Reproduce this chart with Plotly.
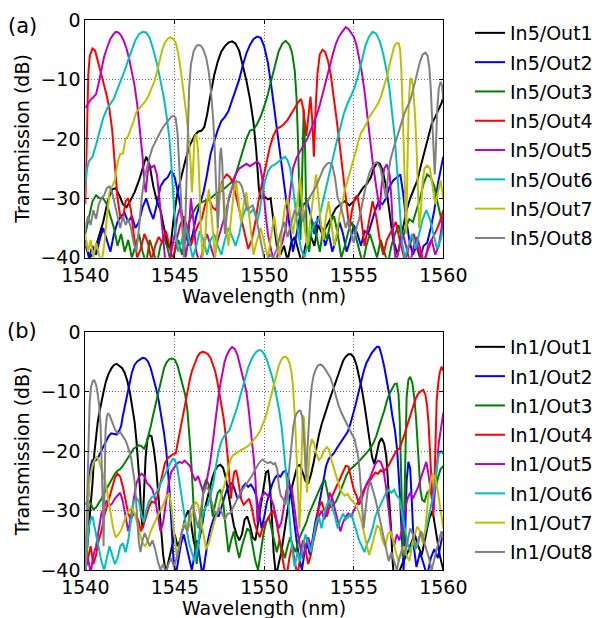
import plotly.graph_objects as go

# ---------------- data ----------------
X_TICKS = [1540, 1545, 1550, 1555, 1560]
Y_TICKS = [0, -10, -20, -30, -40]
LABELS_A = ["In5/Out1", "In5/Out2", "In5/Out3", "In5/Out4", "In5/Out5", "In5/Out6", "In5/Out7", "In5/Out8"]
LABELS_B = ["In1/Out1", "In1/Out2", "In1/Out3", "In1/Out4", "In1/Out5", "In1/Out6", "In1/Out7", "In1/Out8"]
COLORS = ["#000000", "#0000ff", "#008000", "#ff0000", "#bf00bf", "#00bfbf", "#bfbf00", "#808080"]

# (wavelength nm, transmission dB) — panel (a), input 5
A_OUT1 = [(1540.0,-38),(1540.25,-40),(1540.5,-39),(1540.75,-36.5),(1541.0,-34),(1541.25,-30.5),(1541.5,-28.5),(1541.7,-28.3),(1541.9,-29.5),(1542.1,-31),(1542.3,-31.5),(1542.5,-30.5),(1542.75,-29),(1543.0,-27),(1543.2,-25),(1543.4,-23),(1543.6,-24.5),(1543.8,-28),(1544.0,-30.5),(1544.2,-32),(1544.4,-35),(1544.6,-37.8),(1544.75,-38.5),(1544.95,-33),(1545.15,-29),(1545.35,-26.5),(1545.6,-23.5),(1545.85,-21),(1546.1,-19.5),(1546.3,-18.8),(1546.5,-18.6),(1546.65,-18),(1546.8,-16),(1547.0,-12.5),(1547.2,-9.3),(1547.4,-7),(1547.6,-5.3),(1547.8,-4.4),(1548.0,-3.8),(1548.2,-3.6),(1548.4,-4),(1548.6,-5.2),(1548.8,-7.5),(1549.0,-10.2),(1549.2,-13.3),(1549.4,-17.3),(1549.55,-22),(1549.7,-28.5),(1549.8,-30),(1550.0,-29.7),(1550.2,-30.2),(1550.35,-30),(1550.5,-33.5),(1550.7,-38),(1550.9,-39.5),(1551.1,-38),(1551.3,-40.5),(1551.5,-37.5),(1551.7,-36.5),(1551.9,-38.5),(1552.1,-41),(1552.3,-38),(1552.55,-36),(1552.8,-38),(1553.0,-34.5),(1553.25,-36),(1553.5,-34.5),(1553.75,-33),(1554.0,-31.7),(1554.25,-31),(1554.5,-30.5),(1554.75,-31.2),(1555.0,-30.5),(1555.25,-29.5),(1555.5,-28.3),(1555.75,-27.5),(1555.95,-26.5),(1556.1,-25),(1556.3,-24),(1556.45,-24.2),(1556.6,-25.2),(1556.8,-28),(1557.0,-32.5),(1557.2,-37),(1557.45,-39.5),(1557.7,-36),(1557.95,-32),(1558.15,-30),(1558.35,-28.5),(1558.55,-27),(1558.75,-24.5),(1558.95,-22),(1559.15,-19.5),(1559.35,-17.5),(1559.55,-16.3),(1559.75,-15),(1559.9,-14),(1560.0,-13)]
A_OUT2 = [(1540.0,-37),(1540.2,-40),(1540.4,-38),(1540.6,-39.5),(1540.8,-37),(1541.0,-35),(1541.2,-37),(1541.4,-39),(1541.6,-36),(1541.8,-34),(1542.0,-33),(1542.2,-32.5),(1542.4,-34),(1542.6,-33),(1542.8,-35),(1543.0,-34),(1543.2,-31.5),(1543.4,-30),(1543.6,-32),(1543.8,-33.5),(1544.0,-31),(1544.2,-28),(1544.4,-27),(1544.6,-26.5),(1544.8,-25.3),(1545.0,-26.5),(1545.2,-29.5),(1545.4,-33),(1545.6,-36),(1545.8,-38),(1546.0,-36),(1546.2,-33),(1546.4,-31),(1546.6,-29),(1546.8,-26),(1547.0,-22.5),(1547.2,-20.5),(1547.4,-18.5),(1547.6,-17),(1547.8,-16.3),(1548.0,-15.3),(1548.2,-13.6),(1548.4,-12),(1548.6,-10),(1548.8,-7.6),(1549.0,-5.6),(1549.2,-4.2),(1549.4,-3.2),(1549.6,-2.8),(1549.8,-3),(1550.0,-4.5),(1550.2,-7.2),(1550.4,-11.3),(1550.6,-16),(1550.8,-20.7),(1551.0,-25.5),(1551.2,-30),(1551.4,-35),(1551.6,-39),(1551.8,-36),(1552.0,-33),(1552.2,-31),(1552.4,-30.5),(1552.6,-33),(1552.8,-36),(1553.0,-33),(1553.2,-35),(1553.4,-38),(1553.6,-36),(1553.8,-39),(1554.0,-37),(1554.2,-34),(1554.4,-36),(1554.6,-39),(1554.8,-37),(1555.0,-34.5),(1555.2,-36),(1555.4,-38),(1555.6,-35.5),(1555.8,-36),(1556.0,-34),(1556.2,-32),(1556.4,-30.5),(1556.6,-31),(1556.8,-30),(1557.0,-28),(1557.2,-27),(1557.4,-26.5),(1557.6,-26),(1557.75,-29),(1557.9,-33),(1558.1,-37),(1558.3,-39.5),(1558.5,-38),(1558.7,-40),(1558.9,-38),(1559.1,-37.5),(1559.3,-35),(1559.5,-32),(1559.7,-27.5),(1559.85,-25),(1560.0,-23)]
A_OUT3 = [(1540.0,-36),(1540.2,-33),(1540.4,-30.5),(1540.6,-29.5),(1540.8,-30),(1541.0,-30),(1541.2,-31),(1541.4,-33),(1541.6,-35),(1541.8,-38),(1542.0,-36),(1542.2,-39),(1542.4,-37),(1542.6,-40),(1542.8,-38),(1543.0,-36),(1543.2,-39),(1543.4,-41),(1543.6,-37),(1543.8,-39),(1544.0,-41),(1544.2,-38),(1544.4,-36.5),(1544.6,-38.5),(1544.8,-41),(1545.0,-39),(1545.2,-37),(1545.4,-39.5),(1545.6,-37),(1545.8,-34),(1546.0,-32.5),(1546.2,-31.5),(1546.4,-30.8),(1546.6,-30.5),(1546.8,-30.2),(1547.0,-30),(1547.2,-29.5),(1547.4,-29),(1547.6,-28.8),(1547.8,-28.3),(1548.0,-27.8),(1548.2,-27.2),(1548.4,-26),(1548.6,-24),(1548.8,-22),(1549.0,-20),(1549.2,-18.6),(1549.4,-18.4),(1549.6,-17.5),(1549.8,-16.2),(1550.0,-14.5),(1550.2,-12.5),(1550.4,-10),(1550.6,-7.5),(1550.8,-5.3),(1551.0,-4),(1551.2,-3.5),(1551.4,-4.2),(1551.55,-5.5),(1551.7,-8.5),(1551.8,-13),(1551.88,-20),(1551.95,-30),(1552.02,-37),(1552.1,-28),(1552.2,-15),(1552.28,-22),(1552.37,-37),(1552.5,-39),(1552.7,-34),(1552.9,-36),(1553.1,-39),(1553.3,-35),(1553.5,-37),(1553.7,-34),(1553.9,-33),(1554.1,-36),(1554.3,-40),(1554.5,-38),(1554.7,-35.5),(1554.9,-34),(1555.1,-36.5),(1555.3,-39),(1555.5,-41),(1555.7,-38),(1555.9,-36),(1556.1,-38),(1556.3,-40),(1556.5,-37),(1556.7,-39),(1556.9,-41),(1557.1,-38),(1557.3,-36),(1557.5,-34.5),(1557.7,-37),(1557.9,-35),(1558.1,-33.5),(1558.3,-34),(1558.5,-32),(1558.7,-30),(1558.9,-27.5),(1559.1,-26),(1559.3,-26.5),(1559.5,-28),(1559.7,-31),(1559.85,-33),(1560.0,-36)]
A_OUT4 = [(1540.0,-31),(1540.08,-20),(1540.17,-9),(1540.25,-6),(1540.4,-4.8),(1540.55,-5.2),(1540.7,-6.8),(1540.85,-8.6),(1541.0,-10.4),(1541.2,-12.8),(1541.35,-15),(1541.5,-18.5),(1541.6,-22),(1541.7,-26),(1541.8,-30),(1541.95,-33),(1542.1,-33.5),(1542.25,-30.5),(1542.4,-30),(1542.55,-32),(1542.7,-36),(1542.9,-40),(1543.1,-38.5),(1543.3,-36),(1543.5,-37.5),(1543.7,-40.5),(1543.9,-38),(1544.1,-36.5),(1544.3,-37.5),(1544.5,-35.5),(1544.7,-38),(1544.9,-40.5),(1545.1,-37),(1545.3,-34.5),(1545.5,-33),(1545.7,-35),(1545.9,-38),(1546.1,-36),(1546.3,-34.5),(1546.5,-33.5),(1546.7,-31),(1546.9,-30),(1547.1,-31.5),(1547.3,-32),(1547.5,-28.5),(1547.7,-26.8),(1547.9,-26),(1548.1,-26.5),(1548.3,-28),(1548.5,-30.5),(1548.7,-33),(1548.9,-36),(1549.1,-38.5),(1549.3,-37),(1549.5,-34),(1549.7,-30),(1549.9,-27),(1550.1,-24),(1550.3,-21.5),(1550.5,-19.5),(1550.7,-18.3),(1550.9,-18),(1551.1,-17.5),(1551.3,-16.8),(1551.5,-15.8),(1551.7,-14.8),(1551.9,-13.8),(1552.05,-13.3),(1552.18,-15),(1552.35,-19.5),(1552.47,-16),(1552.58,-12.9),(1552.68,-17),(1552.77,-23),(1552.88,-14),(1552.97,-9),(1553.1,-5.8),(1553.25,-5),(1553.4,-5.4),(1553.55,-6.8),(1553.7,-9),(1553.85,-12),(1554.0,-15.8),(1554.15,-19.5),(1554.3,-23.5),(1554.45,-27.5),(1554.6,-32),(1554.75,-35),(1554.9,-32),(1555.05,-30),(1555.2,-29.5),(1555.4,-33),(1555.6,-38),(1555.85,-34),(1556.05,-30.5),(1556.25,-33),(1556.45,-37),(1556.65,-39.5),(1556.85,-37),(1557.1,-35.5),(1557.35,-34),(1557.6,-37.5),(1557.85,-40.5),(1558.1,-38),(1558.35,-36),(1558.6,-38.5),(1558.85,-41),(1559.1,-39),(1559.35,-37),(1559.6,-35.5),(1559.8,-34),(1560.0,-32)]
A_OUT5 = [(1540.0,-14.8),(1540.15,-14),(1540.3,-13.4),(1540.45,-13),(1540.6,-12.5),(1540.75,-10.6),(1540.9,-8.3),(1541.05,-6.2),(1541.2,-4.8),(1541.4,-3.2),(1541.55,-2.5),(1541.7,-2.0),(1541.85,-2.1),(1542.0,-2.6),(1542.15,-3.5),(1542.3,-4.8),(1542.45,-6.5),(1542.6,-8.7),(1542.75,-11),(1542.9,-14.2),(1543.0,-16.8),(1543.1,-19.8),(1543.2,-23),(1543.3,-27.5),(1543.38,-29),(1543.47,-26),(1543.57,-24.3),(1543.7,-24.8),(1543.85,-24.5),(1544.0,-26),(1544.15,-30),(1544.3,-35),(1544.45,-40),(1544.6,-42),(1544.8,-39),(1545.0,-36),(1545.15,-33),(1545.3,-31.5),(1545.45,-35),(1545.6,-40),(1545.75,-37),(1545.9,-30),(1546.05,-34),(1546.2,-39),(1546.4,-41),(1546.6,-38),(1546.8,-36),(1547.0,-38),(1547.2,-40),(1547.4,-37),(1547.6,-35),(1547.8,-33),(1548.0,-30.5),(1548.2,-28),(1548.4,-26),(1548.6,-25),(1548.8,-24.6),(1549.0,-24.2),(1549.2,-24.6),(1549.4,-24.2),(1549.6,-23.8),(1549.75,-24.3),(1549.9,-27),(1550.05,-32),(1550.2,-36),(1550.4,-39),(1550.6,-41),(1550.8,-39),(1551.0,-37.5),(1551.2,-35),(1551.4,-30),(1551.6,-25),(1551.8,-23.2),(1552.0,-22),(1552.2,-21),(1552.4,-20),(1552.6,-18.5),(1552.8,-17),(1552.95,-15.8),(1553.1,-14.3),(1553.25,-12.5),(1553.4,-10.6),(1553.55,-8.8),(1553.7,-7),(1553.85,-5.5),(1554.0,-4),(1554.15,-2.9),(1554.3,-2.2),(1554.45,-1.6),(1554.55,-1.2),(1554.7,-1.5),(1554.85,-2.1),(1555.0,-2.8),(1555.15,-4.2),(1555.3,-6.4),(1555.45,-8.8),(1555.6,-12),(1555.75,-16),(1555.9,-20.3),(1556.05,-23.8),(1556.2,-27),(1556.35,-30),(1556.45,-32),(1556.55,-28),(1556.7,-25),(1556.85,-24.3),(1557.0,-26),(1557.1,-30),(1557.2,-36),(1557.35,-41),(1557.55,-38),(1557.75,-36),(1557.95,-38.5),(1558.15,-41),(1558.35,-38),(1558.55,-36.5),(1558.75,-39),(1558.95,-41),(1559.15,-38),(1559.35,-37),(1559.55,-39.5),(1559.75,-38),(1559.9,-35),(1560.0,-33)]
A_OUT6 = [(1540.0,-28),(1540.1,-25),(1540.2,-23.8),(1540.4,-23),(1540.6,-21),(1540.8,-18.8),(1541.0,-16.5),(1541.2,-15),(1541.4,-14),(1541.6,-13.2),(1541.8,-11.6),(1542.0,-10.2),(1542.2,-8.5),(1542.4,-6.7),(1542.6,-5),(1542.8,-3.4),(1543.0,-2.4),(1543.2,-2.0),(1543.4,-2.1),(1543.6,-3),(1543.8,-5),(1544.0,-7.3),(1544.2,-10.2),(1544.4,-13.3),(1544.55,-16.3),(1544.7,-20),(1544.8,-24),(1544.88,-28),(1544.95,-32),(1545.05,-36),(1545.2,-39),(1545.4,-37),(1545.6,-34.5),(1545.8,-37),(1546.0,-40),(1546.2,-38),(1546.4,-35.5),(1546.6,-37),(1546.8,-39.5),(1547.0,-37),(1547.2,-36),(1547.4,-38),(1547.6,-39.5),(1547.8,-37),(1548.0,-35),(1548.2,-36.5),(1548.4,-38),(1548.6,-36),(1548.8,-33),(1549.0,-31.5),(1549.2,-32.5),(1549.4,-31.8),(1549.6,-34),(1549.75,-32),(1549.9,-29),(1550.05,-27),(1550.2,-25.5),(1550.4,-24.6),(1550.6,-24.3),(1550.8,-23.8),(1551.0,-23.3),(1551.15,-23),(1551.3,-23.6),(1551.45,-25),(1551.6,-28),(1551.75,-32),(1551.9,-36),(1552.05,-38.5),(1552.25,-40),(1552.45,-37),(1552.65,-35.5),(1552.85,-34),(1553.05,-33.5),(1553.25,-31),(1553.45,-28.5),(1553.65,-25.5),(1553.85,-23),(1554.05,-20.4),(1554.25,-18),(1554.45,-15.7),(1554.65,-14),(1554.85,-12.8),(1555.05,-11.3),(1555.25,-9.3),(1555.45,-6.8),(1555.65,-4.3),(1555.85,-2.8),(1556.05,-2.0),(1556.25,-2.3),(1556.45,-3.6),(1556.65,-5.8),(1556.85,-8.8),(1557.0,-11.8),(1557.15,-15.5),(1557.28,-19.5),(1557.4,-24.4),(1557.5,-28.5),(1557.6,-33),(1557.7,-37.5),(1557.85,-40),(1558.05,-38),(1558.25,-36),(1558.45,-38.5),(1558.65,-36),(1558.85,-33.5),(1559.05,-32),(1559.25,-33.5),(1559.45,-36),(1559.65,-38.5),(1559.85,-37),(1560.0,-35)]
A_OUT7 = [(1540.0,-36),(1540.15,-39),(1540.3,-37),(1540.45,-40),(1540.6,-37.5),(1540.75,-39),(1540.9,-41),(1541.05,-38),(1541.2,-34),(1541.35,-29),(1541.5,-28),(1541.65,-27),(1541.8,-24),(1541.95,-22.5),(1542.1,-22.5),(1542.25,-20),(1542.4,-19.5),(1542.55,-18.3),(1542.7,-17),(1542.85,-15.5),(1543.0,-15),(1543.2,-14.3),(1543.4,-13.5),(1543.55,-12.6),(1543.7,-11.6),(1543.85,-10.4),(1544.0,-8.8),(1544.15,-6.8),(1544.3,-5),(1544.45,-3.8),(1544.6,-3.2),(1544.75,-2.9),(1544.9,-3.1),(1545.05,-3.8),(1545.2,-5.8),(1545.35,-8.8),(1545.5,-12.3),(1545.65,-16),(1545.78,-19.9),(1545.88,-24),(1545.96,-29),(1546.02,-24),(1546.1,-19.8),(1546.2,-19.2),(1546.3,-22),(1546.38,-28),(1546.45,-35),(1546.55,-40),(1546.7,-37),(1546.8,-31),(1546.9,-28.5),(1547.0,-31),(1547.12,-36),(1547.25,-40),(1547.4,-35),(1547.5,-30),(1547.6,-27.5),(1547.72,-29),(1547.85,-34),(1548.0,-38),(1548.15,-33),(1548.3,-29),(1548.42,-27),(1548.55,-30),(1548.7,-34),(1548.85,-31),(1549.0,-29),(1549.12,-32),(1549.25,-36),(1549.4,-39.5),(1549.6,-37),(1549.8,-35),(1550.0,-37.5),(1550.2,-40),(1550.4,-36),(1550.55,-33),(1550.7,-36.5),(1550.85,-40),(1551.0,-35),(1551.15,-31.5),(1551.3,-30),(1551.45,-33),(1551.6,-36),(1551.75,-33),(1551.9,-29),(1552.0,-26.5),(1552.1,-30),(1552.25,-35),(1552.4,-38),(1552.55,-34),(1552.7,-31),(1552.8,-28),(1552.9,-26),(1553.0,-29),(1553.15,-34),(1553.3,-37),(1553.45,-33),(1553.6,-30.5),(1553.75,-34),(1553.9,-38),(1554.05,-36),(1554.2,-33),(1554.35,-31),(1554.5,-28.5),(1554.65,-27),(1554.8,-25.5),(1554.95,-24),(1555.1,-22.2),(1555.25,-20.5),(1555.4,-19),(1555.55,-18.3),(1555.7,-17.5),(1555.85,-16.4),(1556.0,-15.8),(1556.2,-14.8),(1556.4,-13.8),(1556.55,-12.6),(1556.7,-11),(1556.85,-9.6),(1557.0,-7.5),(1557.12,-5.9),(1557.25,-4.5),(1557.38,-3.9),(1557.5,-3.9),(1557.58,-4.8),(1557.65,-8),(1557.71,-13),(1557.77,-18.8),(1557.82,-25),(1557.87,-32),(1557.93,-36),(1558.0,-24),(1558.07,-14),(1558.15,-10),(1558.22,-9.8),(1558.3,-11),(1558.4,-15),(1558.5,-21),(1558.58,-28),(1558.65,-35),(1558.75,-32),(1558.85,-27),(1558.95,-25),(1559.1,-24.5),(1559.25,-25),(1559.4,-28),(1559.55,-31),(1559.7,-29),(1559.85,-27),(1560.0,-30)]
A_OUT8 = [(1540.0,-35),(1540.15,-33),(1540.3,-34.5),(1540.45,-32),(1540.6,-33.5),(1540.75,-31),(1540.9,-30),(1541.05,-29.5),(1541.2,-28.3),(1541.35,-28),(1541.5,-29),(1541.65,-31),(1541.8,-33),(1541.95,-35),(1542.1,-33),(1542.25,-34.5),(1542.4,-33.5),(1542.55,-35),(1542.7,-37.5),(1542.85,-39),(1543.0,-35),(1543.15,-30),(1543.3,-26.5),(1543.45,-24.5),(1543.6,-23),(1543.75,-21.5),(1543.9,-20.5),(1544.05,-19.8),(1544.2,-18.8),(1544.35,-18),(1544.5,-17.4),(1544.65,-16.8),(1544.8,-16.3),(1544.95,-16.1),(1545.05,-16.5),(1545.15,-19),(1545.25,-24),(1545.33,-29),(1545.42,-35),(1545.5,-40),(1545.58,-35),(1545.65,-27),(1545.72,-18),(1545.8,-11.5),(1545.9,-7.5),(1546.05,-5.3),(1546.2,-4.4),(1546.3,-4.2),(1546.45,-4.3),(1546.6,-5),(1546.75,-6.3),(1546.88,-8.4),(1547.0,-11.2),(1547.08,-14),(1547.15,-17),(1547.22,-21),(1547.28,-25),(1547.34,-30),(1547.4,-35),(1547.46,-30),(1547.52,-23),(1547.58,-21.5),(1547.65,-24),(1547.72,-30),(1547.8,-36),(1547.9,-33),(1548.0,-30),(1548.15,-28.5),(1548.3,-27.5),(1548.45,-27.2),(1548.6,-27.3),(1548.75,-28),(1548.9,-30),(1549.05,-32),(1549.2,-31.5),(1549.35,-31.2),(1549.5,-32.5),(1549.65,-35),(1549.8,-37),(1549.95,-39.5),(1550.1,-41),(1550.3,-39.5),(1550.5,-40),(1550.7,-38.5),(1550.9,-36),(1551.1,-34),(1551.3,-36.5),(1551.5,-34),(1551.7,-32),(1551.85,-33),(1552.0,-31.5),(1552.15,-34),(1552.3,-32),(1552.5,-30),(1552.7,-29),(1552.9,-28),(1553.1,-26.5),(1553.3,-25),(1553.5,-24.2),(1553.65,-24),(1553.8,-24.5),(1553.95,-26.5),(1554.1,-30),(1554.25,-31),(1554.4,-33),(1554.55,-35),(1554.7,-33.5),(1554.85,-36),(1555.0,-37.5),(1555.15,-35),(1555.3,-33.5),(1555.45,-31),(1555.6,-29),(1555.75,-27),(1555.9,-25.5),(1556.05,-24.6),(1556.2,-24),(1556.35,-24.2),(1556.5,-25),(1556.65,-27.5),(1556.8,-30),(1556.92,-26),(1557.05,-23.5),(1557.2,-21.8),(1557.35,-20.3),(1557.5,-18.8),(1557.65,-17.3),(1557.8,-16),(1557.95,-14.8),(1558.1,-14),(1558.25,-12.5),(1558.4,-10.6),(1558.55,-8.7),(1558.7,-7),(1558.85,-5.8),(1559.0,-5.5),(1559.12,-6),(1559.22,-8),(1559.3,-11.5),(1559.38,-16),(1559.45,-21),(1559.52,-26),(1559.58,-22),(1559.66,-15),(1559.75,-11.5),(1559.85,-10.4),(1559.93,-11),(1560.0,-13.5)]

# panel (b), input 1
B_OUT1 = [(1540.0,-40),(1540.1,-37),(1540.2,-33),(1540.3,-29),(1540.4,-25.5),(1540.5,-20.5),(1540.6,-17.2),(1540.7,-15),(1540.8,-13.3),(1540.9,-11.6),(1541.0,-10.3),(1541.15,-8.3),(1541.3,-7),(1541.45,-6.1),(1541.6,-5.5),(1541.75,-5.3),(1541.9,-5.6),(1542.05,-6),(1542.2,-6.8),(1542.35,-8.2),(1542.5,-10.3),(1542.62,-12.5),(1542.75,-15),(1542.85,-18),(1542.95,-21.5),(1543.05,-26),(1543.12,-30.5),(1543.2,-33),(1543.28,-27),(1543.37,-21),(1543.47,-18),(1543.57,-17.3),(1543.7,-17.5),(1543.82,-19.5),(1543.95,-22.5),(1544.05,-26),(1544.15,-30),(1544.25,-34),(1544.35,-37.5),(1544.5,-40.5),(1544.7,-38),(1544.85,-36),(1545.0,-34),(1545.15,-36),(1545.3,-35),(1545.45,-33),(1545.6,-31),(1545.75,-30),(1545.9,-32),(1546.05,-35),(1546.2,-37),(1546.35,-35),(1546.5,-33),(1546.65,-30),(1546.8,-28),(1546.95,-26),(1547.1,-24.5),(1547.25,-23.2),(1547.4,-22.5),(1547.55,-22.3),(1547.7,-22.8),(1547.85,-24.5),(1548.0,-27.5),(1548.15,-30),(1548.3,-32.5),(1548.45,-34),(1548.6,-35),(1548.75,-34),(1548.9,-31.5),(1549.05,-31),(1549.2,-32.5),(1549.35,-34.5),(1549.5,-35),(1549.65,-32),(1549.8,-29),(1549.95,-26),(1550.1,-23.5),(1550.22,-23.3),(1550.32,-26),(1550.42,-31),(1550.52,-37),(1550.65,-41),(1550.8,-39),(1550.95,-37),(1551.1,-34),(1551.25,-31),(1551.4,-28),(1551.55,-26),(1551.7,-24),(1551.85,-22.5),(1552.0,-22.3),(1552.15,-23.5),(1552.3,-25),(1552.45,-25.5),(1552.6,-24),(1552.75,-22),(1552.9,-19.5),(1553.05,-17.3),(1553.2,-15.5),(1553.35,-14),(1553.5,-12.8),(1553.65,-11.3),(1553.8,-10),(1553.95,-8.6),(1554.1,-7.2),(1554.25,-5.9),(1554.4,-4.8),(1554.55,-4.1),(1554.7,-3.7),(1554.85,-3.7),(1555.0,-4.2),(1555.15,-5.5),(1555.3,-7.3),(1555.45,-9.6),(1555.6,-12.3),(1555.75,-15.2),(1555.9,-18.5),(1556.02,-21),(1556.15,-22.2),(1556.28,-20.5),(1556.42,-18.5),(1556.56,-17.8),(1556.7,-18.8),(1556.82,-21),(1556.92,-25),(1557.0,-28.5),(1557.08,-33),(1557.16,-38),(1557.25,-42),(1557.45,-41),(1557.7,-39),(1557.95,-37.5),(1558.2,-35.5),(1558.4,-34),(1558.6,-36),(1558.8,-37.5),(1559.0,-34.5),(1559.2,-31.5),(1559.4,-30),(1559.6,-33.5),(1559.8,-37.5),(1560.0,-40)]
B_OUT2 = [(1540.0,-40),(1540.06,-35),(1540.12,-30.5),(1540.2,-25.5),(1540.3,-22.5),(1540.4,-21.5),(1540.55,-21.6),(1540.7,-21.2),(1540.85,-20.2),(1541.0,-19.3),(1541.15,-18.2),(1541.3,-17.5),(1541.45,-17),(1541.6,-17.1),(1541.75,-17.2),(1541.9,-16.5),(1542.0,-15.8),(1542.1,-14),(1542.2,-12.5),(1542.32,-10.5),(1542.45,-8.6),(1542.6,-6.8),(1542.75,-5.5),(1542.9,-4.9),(1543.05,-4.6),(1543.2,-4.3),(1543.35,-4.4),(1543.5,-4.9),(1543.65,-6),(1543.8,-7.6),(1543.95,-9.4),(1544.1,-11.5),(1544.25,-14),(1544.4,-17),(1544.52,-19.8),(1544.62,-23),(1544.7,-26.5),(1544.77,-30),(1544.84,-34),(1544.92,-38),(1545.05,-41),(1545.2,-38),(1545.35,-35.5),(1545.5,-34),(1545.65,-36),(1545.8,-38.5),(1545.95,-40),(1546.1,-37.5),(1546.25,-35),(1546.4,-38),(1546.55,-41),(1546.7,-38),(1546.85,-35),(1547.0,-33),(1547.15,-31.5),(1547.3,-30.5),(1547.45,-31),(1547.6,-29.5),(1547.75,-28),(1547.9,-26.5),(1548.05,-25.7),(1548.2,-25.3),(1548.35,-26.5),(1548.5,-28),(1548.65,-27.5),(1548.8,-26),(1548.95,-25.5),(1549.1,-26),(1549.25,-25.6),(1549.4,-26.3),(1549.55,-27.5),(1549.7,-30.5),(1549.85,-33),(1550.0,-31),(1550.15,-28.5),(1550.3,-27),(1550.45,-25.5),(1550.6,-24.5),(1550.75,-24),(1550.9,-24.3),(1551.05,-23.5),(1551.2,-23.3),(1551.35,-24.5),(1551.5,-27.5),(1551.65,-31.5),(1551.8,-35),(1551.95,-38),(1552.1,-40),(1552.25,-37),(1552.4,-35.5),(1552.55,-37.5),(1552.7,-34.5),(1552.85,-32),(1553.0,-30),(1553.15,-27.5),(1553.3,-25),(1553.45,-22.5),(1553.6,-21.3),(1553.75,-20.8),(1553.9,-20.3),(1554.05,-19.5),(1554.2,-18.8),(1554.35,-18.3),(1554.5,-17.5),(1554.65,-16.8),(1554.8,-15.5),(1554.95,-14),(1555.1,-12.2),(1555.25,-10.3),(1555.4,-8.4),(1555.55,-6.6),(1555.7,-5.2),(1555.85,-4.2),(1556.0,-3.5),(1556.15,-2.9),(1556.3,-2.4),(1556.42,-2.5),(1556.55,-3.8),(1556.7,-5.8),(1556.85,-8.2),(1557.0,-10.8),(1557.15,-14),(1557.3,-16.5),(1557.42,-19.8),(1557.5,-23),(1557.57,-27),(1557.63,-31),(1557.7,-36),(1557.78,-40),(1557.88,-33),(1557.95,-25),(1558.05,-21.8),(1558.15,-23),(1558.25,-29),(1558.35,-36),(1558.5,-39.5),(1558.7,-37),(1558.9,-39),(1559.1,-41),(1559.3,-38),(1559.5,-36.5),(1559.7,-38),(1559.85,-36),(1560.0,-33.5)]
B_OUT3 = [(1540.0,-29),(1540.15,-28.2),(1540.3,-28.8),(1540.45,-29.8),(1540.6,-29.5),(1540.75,-28.8),(1540.9,-28),(1541.05,-27.1),(1541.2,-26.3),(1541.35,-25.3),(1541.5,-24.5),(1541.65,-23.8),(1541.8,-23.3),(1541.95,-23),(1542.1,-22.5),(1542.25,-21.8),(1542.4,-21),(1542.55,-20.2),(1542.7,-19.6),(1542.85,-19.3),(1543.0,-19),(1543.15,-19.2),(1543.28,-19.6),(1543.4,-18.8),(1543.52,-17.5),(1543.65,-15.9),(1543.8,-13.8),(1543.95,-11.8),(1544.1,-9.6),(1544.25,-7.6),(1544.4,-6),(1544.55,-5),(1544.7,-4.5),(1544.85,-4.4),(1545.0,-4.6),(1545.15,-5.6),(1545.3,-7.2),(1545.45,-8.8),(1545.58,-10.5),(1545.7,-13),(1545.8,-16.5),(1545.88,-20),(1545.96,-24),(1546.04,-29),(1546.12,-34),(1546.22,-39),(1546.35,-35),(1546.5,-30),(1546.62,-26),(1546.75,-24.8),(1546.88,-25.5),(1547.0,-28),(1547.12,-31),(1547.25,-29),(1547.4,-27),(1547.55,-26.5),(1547.7,-28.5),(1547.85,-33),(1548.0,-37),(1548.15,-35),(1548.3,-33.5),(1548.45,-36),(1548.6,-38),(1548.75,-36),(1548.9,-34.5),(1549.05,-33),(1549.2,-33.5),(1549.35,-36),(1549.5,-38.5),(1549.65,-40),(1549.8,-37),(1549.95,-34),(1550.1,-32),(1550.25,-31),(1550.4,-33),(1550.55,-35),(1550.7,-37),(1550.85,-35),(1551.0,-36.5),(1551.15,-38),(1551.3,-36),(1551.45,-34.5),(1551.6,-36),(1551.75,-37),(1551.9,-35),(1552.05,-34),(1552.2,-33),(1552.35,-32),(1552.5,-30.5),(1552.65,-29.5),(1552.8,-28.2),(1552.95,-27.5),(1553.1,-26.5),(1553.25,-25.3),(1553.4,-25),(1553.55,-27),(1553.7,-29.5),(1553.85,-29),(1554.0,-28.5),(1554.15,-27.5),(1554.3,-26.3),(1554.45,-25.3),(1554.6,-24),(1554.75,-23.2),(1554.9,-22.8),(1555.05,-22.5),(1555.2,-22),(1555.35,-21.5),(1555.5,-21),(1555.65,-20.6),(1555.8,-20),(1555.95,-19.4),(1556.1,-18.6),(1556.25,-17.5),(1556.4,-16.2),(1556.55,-14.6),(1556.7,-13.2),(1556.85,-11.5),(1557.0,-10.3),(1557.15,-9.3),(1557.28,-8.7),(1557.4,-8.6),(1557.5,-10.5),(1557.57,-15),(1557.63,-22),(1557.7,-30),(1557.76,-38),(1557.82,-30),(1557.88,-18),(1557.95,-11),(1558.05,-8),(1558.15,-7.5),(1558.27,-8.5),(1558.38,-11),(1558.48,-14.5),(1558.56,-19),(1558.64,-23),(1558.72,-26.5),(1558.82,-28.2),(1558.95,-28.5),(1559.1,-27),(1559.25,-26.5),(1559.4,-27),(1559.55,-26.5),(1559.7,-24.5),(1559.85,-23),(1560.0,-22.5)]
B_OUT4 = [(1540.0,-40),(1540.15,-38),(1540.3,-36),(1540.45,-39),(1540.6,-37.5),(1540.75,-35),(1540.9,-33.5),(1541.05,-31),(1541.2,-29.4),(1541.35,-27.5),(1541.5,-26),(1541.65,-24.5),(1541.8,-23.8),(1541.95,-24.3),(1542.1,-26),(1542.25,-28.5),(1542.4,-30.5),(1542.55,-31.5),(1542.7,-30.5),(1542.85,-30.8),(1543.0,-32),(1543.1,-33.5),(1543.25,-32.5),(1543.4,-31),(1543.55,-29.5),(1543.7,-28.5),(1543.85,-28.7),(1544.0,-28),(1544.15,-26),(1544.3,-24),(1544.45,-22),(1544.6,-21.2),(1544.75,-20.8),(1544.9,-20.5),(1545.05,-20.4),(1545.15,-18.8),(1545.25,-17.3),(1545.35,-15.5),(1545.45,-13.7),(1545.55,-12.2),(1545.65,-10.6),(1545.75,-9),(1545.85,-7.8),(1545.95,-6.6),(1546.1,-5.2),(1546.25,-4.2),(1546.4,-3.5),(1546.55,-3.3),(1546.7,-3.4),(1546.85,-3.7),(1547.0,-4.3),(1547.12,-5.3),(1547.25,-6.5),(1547.38,-8.3),(1547.5,-10.4),(1547.62,-12.3),(1547.73,-14.5),(1547.83,-17),(1547.92,-19.6),(1548.0,-22.5),(1548.07,-25.5),(1548.14,-28),(1548.22,-25.5),(1548.32,-23.5),(1548.42,-23.2),(1548.52,-24.5),(1548.62,-26.5),(1548.72,-28.2),(1548.85,-29),(1549.0,-28.5),(1549.15,-28),(1549.3,-29.5),(1549.45,-32),(1549.6,-33.5),(1549.75,-34.5),(1549.9,-33),(1550.05,-32),(1550.2,-31.5),(1550.35,-30.5),(1550.5,-30),(1550.65,-31.5),(1550.8,-34),(1550.95,-37),(1551.1,-39.5),(1551.25,-41),(1551.4,-38),(1551.55,-36),(1551.7,-38.5),(1551.85,-41),(1552.0,-38),(1552.15,-35),(1552.3,-36.5),(1552.45,-39),(1552.6,-37.5),(1552.75,-35),(1552.9,-32),(1553.05,-29.5),(1553.2,-28.5),(1553.35,-30),(1553.5,-31),(1553.65,-29),(1553.8,-27.5),(1553.95,-26.5),(1554.1,-25.5),(1554.25,-24.5),(1554.4,-23.5),(1554.55,-22.5),(1554.7,-22.6),(1554.85,-24.5),(1555.0,-26.5),(1555.15,-27.5),(1555.3,-29),(1555.45,-28),(1555.6,-26.5),(1555.75,-25.5),(1555.9,-25),(1556.05,-24.2),(1556.2,-23.6),(1556.35,-23.8),(1556.5,-23.2),(1556.65,-23.5),(1556.8,-23),(1556.95,-22.4),(1557.1,-21.5),(1557.25,-20.6),(1557.4,-19.8),(1557.55,-19.6),(1557.7,-18.4),(1557.85,-17),(1558.0,-15.5),(1558.15,-14.2),(1558.3,-12.6),(1558.45,-11.2),(1558.6,-10.3),(1558.75,-9.9),(1558.88,-9.7),(1559.0,-10.5),(1559.1,-12.5),(1559.18,-15.5),(1559.25,-19.5),(1559.32,-23),(1559.38,-27),(1559.44,-31),(1559.5,-26),(1559.56,-17),(1559.63,-11.4),(1559.72,-8.5),(1559.8,-6.8),(1559.9,-5.8),(1560.0,-6.5)]
B_OUT5 = [(1540.0,-40),(1540.15,-38),(1540.3,-40.5),(1540.45,-37.5),(1540.6,-36),(1540.75,-33),(1540.9,-30.5),(1541.05,-29.4),(1541.2,-28.3),(1541.35,-29.2),(1541.5,-28.8),(1541.65,-28),(1541.8,-27.5),(1541.95,-27),(1542.1,-28.5),(1542.25,-31),(1542.4,-33.5),(1542.55,-31),(1542.7,-28),(1542.85,-25.5),(1543.0,-24.3),(1543.15,-23.8),(1543.3,-24.2),(1543.45,-25.4),(1543.6,-25.8),(1543.75,-26.5),(1543.9,-28),(1544.05,-31),(1544.2,-33.5),(1544.35,-32),(1544.5,-28.5),(1544.65,-25.5),(1544.8,-23.5),(1544.95,-22.8),(1545.1,-22.2),(1545.25,-21.8),(1545.4,-22),(1545.55,-21.6),(1545.7,-22),(1545.85,-22.5),(1546.0,-24),(1546.15,-25),(1546.3,-24.2),(1546.45,-25.5),(1546.6,-27),(1546.72,-26),(1546.85,-24),(1546.97,-22),(1547.08,-19.5),(1547.18,-16.8),(1547.3,-14),(1547.42,-11.2),(1547.54,-8.8),(1547.66,-6.8),(1547.78,-5),(1547.9,-3.9),(1548.05,-3),(1548.2,-2.5),(1548.35,-2.8),(1548.5,-3.8),(1548.62,-5.2),(1548.75,-6.8),(1548.88,-8.2),(1549.0,-10),(1549.12,-12.8),(1549.22,-15.5),(1549.32,-18),(1549.42,-21.5),(1549.5,-24.5),(1549.56,-28),(1549.62,-32),(1549.7,-30),(1549.8,-28),(1549.92,-27.3),(1550.05,-27),(1550.2,-27.5),(1550.35,-27.8),(1550.5,-29),(1550.65,-31),(1550.8,-33),(1550.95,-32),(1551.1,-29),(1551.25,-26.5),(1551.4,-25.5),(1551.55,-26.5),(1551.7,-30),(1551.85,-33.5),(1552.0,-36),(1552.15,-38),(1552.3,-36),(1552.45,-34.5),(1552.6,-36),(1552.75,-35),(1552.9,-33),(1553.05,-31),(1553.2,-30),(1553.35,-31.5),(1553.5,-30),(1553.65,-27),(1553.8,-28),(1553.95,-30),(1554.1,-32),(1554.25,-33.5),(1554.4,-32),(1554.55,-31),(1554.7,-30.5),(1554.85,-31),(1555.0,-30),(1555.15,-29),(1555.3,-28),(1555.45,-27),(1555.6,-26),(1555.75,-25.3),(1555.9,-24.5),(1556.05,-23.5),(1556.2,-22.2),(1556.35,-21.6),(1556.5,-21.8),(1556.65,-23),(1556.8,-26),(1556.95,-30),(1557.1,-34),(1557.25,-36),(1557.4,-34),(1557.55,-35),(1557.7,-33),(1557.85,-30),(1558.0,-28),(1558.15,-27),(1558.3,-28),(1558.45,-27),(1558.6,-26),(1558.75,-24.5),(1558.9,-23),(1559.05,-21.8),(1559.15,-23.5),(1559.3,-27),(1559.45,-30),(1559.55,-26),(1559.65,-21.5),(1559.75,-18.5),(1559.88,-16),(1560.0,-13.5)]
B_OUT6 = [(1540.0,-40),(1540.1,-36),(1540.2,-32.7),(1540.3,-31.5),(1540.4,-31),(1540.5,-32.5),(1540.6,-34),(1540.75,-36.5),(1540.9,-38.5),(1541.05,-40),(1541.2,-38),(1541.35,-36),(1541.5,-37.5),(1541.65,-39),(1541.8,-38),(1541.95,-36),(1542.1,-35.5),(1542.25,-37),(1542.4,-35),(1542.55,-31.5),(1542.7,-28.5),(1542.85,-27.8),(1543.0,-28.5),(1543.12,-30.5),(1543.25,-32),(1543.4,-30),(1543.55,-28.5),(1543.7,-27.8),(1543.85,-27.5),(1544.0,-26.8),(1544.15,-25.8),(1544.3,-25),(1544.45,-24),(1544.6,-23),(1544.75,-22),(1544.9,-21.3),(1545.02,-21.5),(1545.15,-23),(1545.27,-25.5),(1545.4,-27.5),(1545.52,-30),(1545.65,-33),(1545.8,-35.5),(1545.95,-37),(1546.1,-38.5),(1546.25,-36.5),(1546.4,-34),(1546.55,-31),(1546.7,-29.5),(1546.85,-29),(1547.0,-27.5),(1547.15,-25.4),(1547.3,-22.5),(1547.45,-20),(1547.6,-18.4),(1547.75,-17.5),(1547.9,-17),(1548.05,-16.5),(1548.2,-15.2),(1548.35,-14),(1548.5,-12.5),(1548.65,-10.8),(1548.8,-9),(1548.95,-7.3),(1549.1,-5.9),(1549.25,-4.8),(1549.4,-3.9),(1549.55,-3.3),(1549.7,-3.0),(1549.85,-3.1),(1550.0,-3.7),(1550.15,-4.7),(1550.3,-6),(1550.45,-7.6),(1550.6,-9.5),(1550.73,-11.4),(1550.85,-13.5),(1550.97,-16),(1551.07,-18.8),(1551.16,-21.5),(1551.24,-24.5),(1551.3,-27),(1551.37,-30),(1551.44,-33),(1551.55,-36.5),(1551.7,-39.5),(1551.85,-37),(1552.0,-38.5),(1552.15,-36),(1552.3,-34),(1552.45,-35.5),(1552.6,-37),(1552.75,-34.5),(1552.9,-32),(1553.05,-31),(1553.2,-33),(1553.35,-30.5),(1553.5,-29),(1553.65,-28.2),(1553.8,-29.5),(1553.95,-31),(1554.1,-33),(1554.25,-31.5),(1554.4,-30.5),(1554.55,-31.5),(1554.7,-31),(1554.85,-30.5),(1555.0,-32),(1555.15,-33.5),(1555.3,-35),(1555.45,-36),(1555.6,-37),(1555.75,-35.5),(1555.9,-34.5),(1556.05,-33),(1556.2,-31),(1556.35,-30),(1556.5,-29),(1556.65,-28),(1556.8,-27),(1556.95,-26.5),(1557.1,-27),(1557.25,-26.5),(1557.4,-27.5),(1557.55,-28),(1557.7,-30.5),(1557.85,-33),(1558.0,-35.5),(1558.15,-37),(1558.3,-35),(1558.45,-36.5),(1558.6,-35.5),(1558.75,-33.5),(1558.9,-34.5),(1559.05,-33),(1559.2,-31),(1559.35,-29),(1559.5,-26.5),(1559.62,-23),(1559.75,-20.5),(1559.88,-20),(1560.0,-20.5)]
B_OUT7 = [(1540.0,-40),(1540.07,-34),(1540.15,-28),(1540.22,-25.5),(1540.32,-23.5),(1540.45,-22),(1540.6,-21),(1540.72,-21.2),(1540.85,-22.5),(1541.0,-24.3),(1541.14,-25.5),(1541.28,-28),(1541.42,-30.5),(1541.56,-33),(1541.7,-34.5),(1541.85,-34),(1542.0,-33.3),(1542.15,-32),(1542.3,-30.7),(1542.45,-30),(1542.6,-29.5),(1542.75,-30.5),(1542.9,-32),(1543.05,-34),(1543.2,-35.5),(1543.35,-36),(1543.5,-35),(1543.65,-33.5),(1543.8,-32.5),(1543.95,-31.5),(1544.1,-30.5),(1544.25,-29.8),(1544.4,-28.5),(1544.55,-27.5),(1544.68,-27.2),(1544.8,-29),(1544.9,-32),(1545.0,-35),(1545.12,-38),(1545.25,-36),(1545.4,-33.5),(1545.55,-32),(1545.7,-33.5),(1545.85,-32),(1546.0,-30),(1546.15,-28.5),(1546.3,-29),(1546.45,-31.5),(1546.6,-34),(1546.75,-36.5),(1546.9,-35.5),(1547.05,-33.5),(1547.2,-32),(1547.35,-30.5),(1547.5,-28.5),(1547.65,-27),(1547.8,-25.4),(1547.95,-23.3),(1548.1,-21.5),(1548.25,-20.7),(1548.4,-20.4),(1548.55,-20),(1548.7,-19.8),(1548.85,-19.6),(1549.0,-19.3),(1549.15,-19),(1549.3,-18.5),(1549.45,-18),(1549.6,-17.4),(1549.75,-16.7),(1549.9,-15.7),(1550.05,-14.5),(1550.17,-13.2),(1550.3,-11.7),(1550.42,-10.2),(1550.55,-8.6),(1550.68,-7),(1550.8,-5.7),(1550.92,-4.8),(1551.05,-4.2),(1551.17,-4.1),(1551.3,-4.4),(1551.42,-5.3),(1551.52,-6.8),(1551.6,-9),(1551.66,-11.5),(1551.72,-15),(1551.78,-19),(1551.84,-23.5),(1551.9,-28),(1551.96,-33),(1552.02,-28),(1552.08,-19),(1552.15,-14),(1552.22,-14.5),(1552.3,-20),(1552.38,-27),(1552.45,-24),(1552.55,-19.5),(1552.65,-18),(1552.78,-18.7),(1552.92,-20.5),(1553.05,-21.5),(1553.2,-21),(1553.35,-19.8),(1553.5,-19.3),(1553.62,-19.8),(1553.75,-21.5),(1553.9,-23),(1554.05,-24.5),(1554.2,-26),(1554.35,-27),(1554.5,-27.5),(1554.65,-27.2),(1554.8,-28),(1554.95,-28.5),(1555.1,-29),(1555.25,-30),(1555.4,-31.5),(1555.55,-33.5),(1555.7,-35.5),(1555.85,-37.5),(1556.0,-36),(1556.15,-34),(1556.3,-32.5),(1556.45,-33),(1556.6,-35),(1556.75,-36),(1556.9,-34),(1557.05,-33.5),(1557.2,-35),(1557.35,-37),(1557.5,-38.5),(1557.65,-37),(1557.8,-36),(1557.95,-37.5),(1558.1,-38.5),(1558.25,-36),(1558.4,-34),(1558.55,-32.7),(1558.7,-33.5),(1558.85,-35.5),(1559.0,-33),(1559.15,-28),(1559.3,-25),(1559.42,-23.7),(1559.55,-24.5),(1559.68,-26.5),(1559.8,-29),(1559.9,-31.5),(1560.0,-33)]
B_OUT8 = [(1540.0,-40),(1540.05,-34),(1540.1,-25),(1540.17,-16),(1540.24,-12),(1540.32,-9.2),(1540.42,-8.2),(1540.5,-8.1),(1540.6,-8.8),(1540.7,-10.5),(1540.78,-12.5),(1540.85,-15.5),(1540.92,-21),(1540.97,-28),(1541.02,-36),(1541.07,-24),(1541.13,-16.5),(1541.2,-14.2),(1541.27,-13.7),(1541.35,-13.9),(1541.45,-14.8),(1541.55,-15.5),(1541.65,-16.3),(1541.75,-16.8),(1541.85,-17),(1541.95,-16.8),(1542.05,-17.2),(1542.15,-17.6),(1542.25,-18.2),(1542.35,-19),(1542.45,-20),(1542.55,-21),(1542.65,-23),(1542.75,-25),(1542.83,-28),(1542.9,-31),(1542.98,-35),(1543.08,-37),(1543.2,-35),(1543.32,-33.8),(1543.45,-35),(1543.6,-36),(1543.75,-35),(1543.9,-36.5),(1544.05,-38.5),(1544.2,-40),(1544.35,-39),(1544.5,-40.5),(1544.65,-39),(1544.8,-38),(1544.95,-39.5),(1545.1,-38),(1545.25,-36),(1545.4,-33.5),(1545.55,-32.5),(1545.7,-33.5),(1545.85,-30),(1546.0,-29),(1546.15,-31),(1546.3,-33),(1546.45,-30),(1546.6,-27),(1546.75,-26),(1546.9,-26.5),(1547.05,-28.5),(1547.2,-30),(1547.35,-30.5),(1547.5,-29.5),(1547.65,-30.5),(1547.8,-31.5),(1547.95,-30.5),(1548.1,-30.5),(1548.25,-29.5),(1548.4,-28.5),(1548.55,-27.5),(1548.7,-26.8),(1548.85,-26.2),(1549.0,-25.6),(1549.15,-25),(1549.3,-24.2),(1549.45,-23.3),(1549.6,-22.5),(1549.75,-21.8),(1549.9,-21.4),(1550.05,-21.8),(1550.2,-22),(1550.35,-21.8),(1550.5,-22.2),(1550.6,-22),(1550.72,-23),(1550.82,-26),(1550.92,-27.5),(1551.05,-28),(1551.18,-29),(1551.28,-27.5),(1551.36,-24),(1551.44,-21.5),(1551.53,-18),(1551.62,-15.9),(1551.72,-14.3),(1551.82,-13.6),(1551.93,-13.2),(1552.02,-13.2),(1552.12,-14.2),(1552.2,-17),(1552.27,-21),(1552.33,-24.5),(1552.4,-20),(1552.47,-15.8),(1552.56,-12),(1552.65,-9.1),(1552.75,-7.3),(1552.88,-6.2),(1553.0,-5.6),(1553.12,-5.4),(1553.25,-5.6),(1553.4,-6.2),(1553.55,-6.9),(1553.7,-7.7),(1553.85,-9.1),(1554.0,-10.8),(1554.15,-12.3),(1554.3,-13.5),(1554.45,-14.5),(1554.6,-15.3),(1554.75,-16.2),(1554.9,-17.2),(1555.05,-18),(1555.15,-19.3),(1555.25,-21),(1555.33,-23.5),(1555.4,-26.5),(1555.47,-30),(1555.55,-33),(1555.65,-30),(1555.78,-26.5),(1555.92,-25),(1556.05,-26.3),(1556.2,-28),(1556.35,-30),(1556.5,-32),(1556.65,-34),(1556.8,-36.5),(1556.95,-38.5),(1557.1,-37),(1557.25,-38.5),(1557.4,-40),(1557.55,-38),(1557.7,-36.5),(1557.85,-37.5),(1558.0,-35),(1558.15,-33),(1558.3,-34),(1558.45,-36),(1558.6,-35),(1558.75,-33.5),(1558.9,-35),(1559.05,-36.5),(1559.2,-38),(1559.35,-40),(1559.5,-38),(1559.65,-36.5),(1559.8,-34.5),(1559.9,-33.5),(1560.0,-35)]

SERIES_A = [A_OUT1, A_OUT2, A_OUT3, A_OUT4, A_OUT5, A_OUT6, A_OUT7, A_OUT8]
SERIES_B = [B_OUT1, B_OUT2, B_OUT3, B_OUT4, B_OUT5, B_OUT6, B_OUT7, B_OUT8]

# ---------------- figure ----------------
W, H = 607, 618
FONT = "DejaVu Sans"
FS = 19

fig = go.Figure()

def add_panel(series, labels, xa, ya, legend_name, group_prefix):
    for k, (pts, lab, col) in enumerate(zip(series, labels, COLORS)):
        fig.add_trace(go.Scatter(
            x=[p[0] for p in pts], y=[p[1] for p in pts],
            mode="lines", name=lab,
            line=dict(color=col, width=2),
            xaxis=xa, yaxis=ya, legend=legend_name,
            legendgroup=f"{group_prefix}{k}",
        ))

add_panel(SERIES_A, LABELS_A, "x", "y", "legend", "a")
add_panel(SERIES_B, LABELS_B, "x2", "y2", "legend2", "b")

# plot-area pixel boxes
XL, XR = 85.3, 443.3
A_TOP, A_BOT = 20.0, 257.7
B_TOP, B_BOT = 332.3, 570.0

def px_x(p):
    return p / W

def px_y(p):
    return 1 - p / H

axis_common = dict(
    showline=True, linecolor="black", linewidth=1, mirror="allticks",
    ticks="inside", ticklen=4, tickcolor="black",
    showgrid=True, gridcolor="#6e6e6e", gridwidth=1, griddash="1px,2px",
    zeroline=False, automargin=False,
    tickfont=dict(family=FONT, size=FS, color="black"),
)

legend_common = dict(xanchor="left", yanchor="top",
                     font=dict(family=FONT, size=FS, color="black"), borderwidth=0,
                     bgcolor="rgba(0,0,0,0)", tracegroupgap=1.6, traceorder="grouped")

fig.update_layout(
    template="none",
    width=W, height=H,
    margin=dict(l=0, r=0, t=0, b=0, autoexpand=False),
    paper_bgcolor="white", plot_bgcolor="white",
    showlegend=True,
    xaxis=dict(domain=[px_x(XL), px_x(XR)], range=[1540, 1560], tickvals=X_TICKS, anchor="y", **axis_common),
    yaxis=dict(domain=[px_y(A_BOT), px_y(A_TOP)], range=[-40, 0], tickvals=Y_TICKS, anchor="x", **axis_common),
    xaxis2=dict(domain=[px_x(XL), px_x(XR)], range=[1540, 1560], tickvals=X_TICKS, anchor="y2", **axis_common),
    yaxis2=dict(domain=[px_y(B_BOT), px_y(B_TOP)], range=[-40, 0], tickvals=Y_TICKS, anchor="x2", **axis_common),
    legend=dict(x=px_x(470), y=px_y(14), **legend_common),
    legend2=dict(x=px_x(470), y=px_y(328), **legend_common),
)

ann_font = dict(family=FONT, size=FS, color="black")
annotations = [
    dict(text="Wavelength (nm)", x=px_x((XL + XR) / 2), y=px_y(A_BOT + 38), xref="paper", yref="paper",
         showarrow=False, xanchor="center", yanchor="middle", font=ann_font),
    dict(text="Wavelength (nm)", x=px_x((XL + XR) / 2), y=px_y(B_BOT + 38), xref="paper", yref="paper",
         showarrow=False, xanchor="center", yanchor="middle", font=ann_font),
    dict(text="Transmission (dB)", x=px_x(22), y=px_y((A_TOP + A_BOT) / 2), xref="paper", yref="paper",
         showarrow=False, xanchor="center", yanchor="middle", textangle=-90, font=ann_font),
    dict(text="Transmission (dB)", x=px_x(22), y=px_y((B_TOP + B_BOT) / 2), xref="paper", yref="paper",
         showarrow=False, xanchor="center", yanchor="middle", textangle=-90, font=ann_font),
    dict(text="(a)", x=px_x(22), y=px_y(26), xref="paper", yref="paper",
         showarrow=False, xanchor="center", yanchor="middle", font=dict(family=FONT, size=21, color="black")),
    dict(text="(b)", x=px_x(22), y=px_y(331), xref="paper", yref="paper",
         showarrow=False, xanchor="center", yanchor="middle", font=dict(family=FONT, size=21, color="black")),
]
fig.update_layout(annotations=annotations)

fig.write_html("out.html")
